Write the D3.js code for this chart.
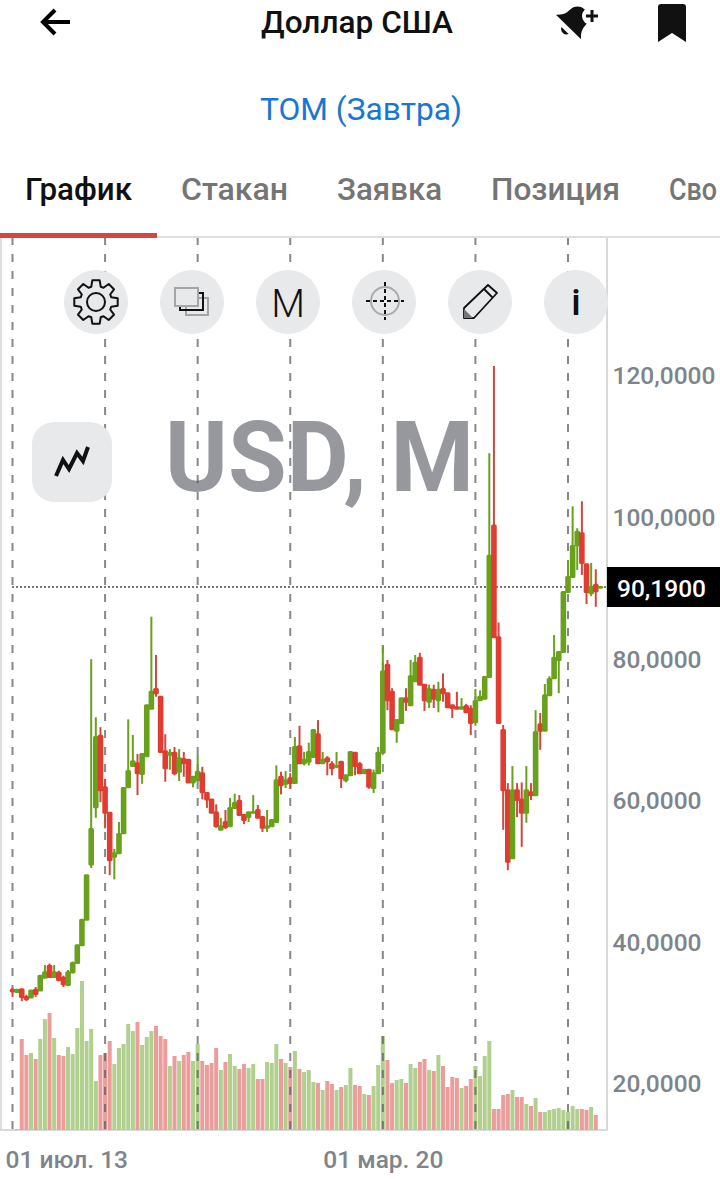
<!DOCTYPE html>
<html>
<head>
<meta charset="utf-8">
<script src="https://cdnjs.cloudflare.com/ajax/libs/d3/7.8.5/d3.min.js"></script>
<style>
    body { margin: 0; background: #fff; }
    svg { display: block; font-family: Roboto, sans-serif; }
</style>
</head>
<body>
<script>
let opens = [
    33.3,33.0,33.4,32.3,32.2,33.3,33.2,35.0,36.7,35.1,
    35.7,35.0,34.0,35.8,37.1,39.6,43.2,51.0,59.1,69.2,
    61.9,58.3,52.1,52.6,55.4,61.9,64.9,65.3,63.8,66.3,
    73.0,75.8,74.7,67.0,66.5,66.8,64.1,65.9,65.8,62.6,
    62.9,63.9,61.1,60.2,58.4,55.9,57.0,56.4,59.0,60.0,
    58.0,57.7,58.3,58.7,57.7,56.2,56.4,57.0,63.4,62.4,
    63.2,62.5,67.7,65.3,65.5,66.2,69.4,65.3,66.0,65.2,
    64.8,65.5,62.9,63.6,66.8,65.2,63.9,64.4,61.8,63.9,
    66.8,79.2,75.4,69.9,71.0,74.5,73.5,76.9,80.2,76.4,
    74.0,75.7,74.2,75.8,75.2,73.5,73.2,73.0,73.4,73.0,
    71.1,74.2,74.4,77.5,98.9,83.1,70.0,61.5,51.9,61.5,
    60.2,58.3,61.2,60.8,70.8,69.9,74.9,77.3,79.9,81.0,
    89.5,91.6,96.1,97.8,93.4,89.3,90.5,90.1
];
let closes = [
    33.1,33.3,32.3,32.0,33.2,32.7,35.3,35.8,35.1,35.8,
    34.7,34.1,35.8,37.1,39.6,43.2,49.5,56.0,69.0,61.5,
    58.3,51.6,52.6,55.3,61.8,64.2,65.6,63.9,66.6,73.5,
    75.4,75.2,66.9,64.6,66.8,63.9,66.0,65.3,62.6,63.4,
    64.1,61.2,60.2,58.3,56.4,56.4,56.3,59.0,59.7,58.0,
    57.3,58.4,58.4,57.6,56.2,56.4,57.3,62.9,62.2,62.9,
    62.5,67.6,65.3,65.8,66.9,70.0,65.3,65.8,65.6,64.6,
    64.9,63.2,63.6,66.9,64.9,63.9,64.4,62.0,63.9,66.8,
    78.3,74.2,70.1,71.4,74.5,74.0,77.6,79.5,76.4,74.2,
    75.8,74.4,75.7,75.2,73.2,73.1,73.0,73.2,72.5,71.0,
    74.1,74.7,77.5,94.6,83.1,71.0,61.5,51.4,61.5,60.1,
    58.3,61.5,60.8,69.7,69.9,74.9,77.2,80.2,81.0,89.5,
    91.6,96.0,98.0,93.6,89.5,90.2,89.6,90.2
];
let highs = [
    33.6,33.3,33.4,32.6,33.2,33.7,35.3,36.8,37.0,36.8,
    36.0,35.3,36.1,37.3,39.6,43.2,49.5,80.0,71.8,70.4,
    63.1,58.3,53.2,57.0,61.8,71.5,69.3,66.6,66.6,73.5,
    86.0,80.6,74.7,69.4,67.3,67.6,67.3,66.9,65.8,63.4,
    66.5,64.8,61.1,60.2,59.5,57.6,58.7,60.4,61.0,60.8,
    58.0,58.4,60.8,59.4,57.7,58.7,57.3,65.0,64.1,64.2,
    63.9,69.0,70.6,66.9,68.2,70.0,71.4,66.9,66.3,65.6,
    66.9,65.5,63.6,66.9,66.8,65.5,64.4,64.4,64.4,67.6,
    81.9,79.9,75.9,71.4,74.5,75.9,79.9,80.6,80.9,76.4,
    76.4,76.4,76.8,78.0,75.2,73.5,75.4,74.5,73.7,73.5,
    75.8,75.6,77.5,109.1,121.4,85.2,70.7,62.5,64.9,62.5,
    62.6,64.9,62.5,72.8,72.4,76.5,77.6,83.4,81.0,89.5,
    94.0,101.6,98.5,102.3,93.4,93.6,92.7,90.2
];
let lows = [
    32.3,33.0,31.7,31.7,32.2,32.3,33.2,35.0,35.0,35.1,
    34.5,33.7,33.8,35.6,37.1,39.6,43.2,50.5,57.6,59.8,
    56.1,49.5,48.9,52.6,55.4,61.9,64.9,60.8,62.4,66.3,
    73.0,74.7,66.9,62.7,64.4,63.6,62.8,63.4,62.6,61.9,
    62.9,60.2,59.0,58.3,56.2,55.9,56.0,56.4,59.0,58.0,
    56.7,57.0,58.3,57.6,55.6,55.6,56.4,57.0,60.9,61.8,
    61.7,62.5,65.3,65.0,65.0,66.2,65.3,65.3,63.6,63.6,
    64.6,61.8,62.6,63.6,63.6,63.8,63.9,61.7,61.1,63.9,
    66.8,72.8,70.1,68.2,71.0,72.7,73.5,76.9,76.4,72.7,
    73.1,73.1,72.5,74.0,73.1,71.7,73.0,73.0,72.5,69.3,
    70.6,74.2,74.4,77.5,83.1,71.0,55.9,50.2,51.9,57.7,
    53.5,56.9,60.1,60.8,67.2,69.9,74.9,77.3,75.2,81.0,
    89.5,91.6,92.6,91.9,87.8,88.9,87.4,90.1
];
let volumes = [
    0,1,91,75,77,71,91,111,117,92,
    75,74,83,76,102,149,89,101,49,75,
    77,89,66,82,86,106,99,108,85,93,
    99,104,94,91,64,74,69,75,78,69,
    86,69,65,67,82,60,68,76,64,61,
    66,62,66,51,51,68,67,86,71,67,
    63,79,61,58,60,48,47,40,49,46,
    40,43,45,62,45,44,36,35,44,65,
    94,70,47,50,51,47,66,62,68,71,
    60,59,75,64,43,53,52,42,44,51,
    64,54,74,89,21,21,35,36,40,33,
    33,26,24,32,18,18,20,21,22,20,
    18,24,21,21,20,23,15,0
];
let priceTicks = [20, 40, 60, 80, 100, 120];
let lastPrice = 90.19;
let gridIdx = [0, 20, 40, 60, 80, 100, 120];
let dateIdx = [0, 80];
let dateLabels = ["01 июл. 13", "01 мар. 20"];
let tabs = ["График", "Стакан", "Заявка", "Позиция", "Сво"];
let tabX = [25, 181, 337, 491, 669];
let tabW = [107, 107, 105, 129, 48];

let candles = d3.range(opens.length);

let width = 720;
let height = 1179;
let chartTop = 238;
let chartBottom = 1130;
let chartRight = 606;
let green = "#69a01c";
let red = "#e03c32";

let svg = d3.select("body")
    .append("svg")
    .attr("width", width)
    .attr("height", height);

let scaleX = d3.scaleLinear().domain([0, 120]).range([12.5, 568]);
let scaleY = d3.scaleLinear().domain([20, 120]).range([1084, 376]);
let scaleV = d3.scaleLinear().domain([0, 100]).range([chartBottom, chartBottom - 100]);

let ru = d3.formatLocale({ decimal: ",", thousands: " ", grouping: [3], currency: ["", ""] });
let fmt = ru.format(".4f");

// шапка
svg.append("path")
    .attr("d", "M70 22H43M55 10L43 22L55 34")
    .attr("fill", "none").attr("stroke", "#000").attr("stroke-width", 4);
svg.append("text").text("Доллар США")
    .attr("x", 261).attr("y", 33)
    .attr("font-size", 32).attr("font-weight", 500).attr("fill", "#111")
    .attr("textLength", 192).attr("lengthAdjust", "spacingAndGlyphs");
// колокольчик
let bell = svg.append("g").attr("transform", "translate(568.5,27) rotate(44)");
bell.append("path")
    .attr("d", "M-17.5 0C-13 -4 -11 -8 -11 -13C-11 -20 -6 -24 0 -24C6 -24 11 -20 11 -13C11 -8 13 -4 17.5 0Z")
    .attr("fill", "#111");
bell.append("path").attr("d", "M-5 5A5.5 5.5 0 0 0 5 5Z").attr("fill", "#111");
svg.append("circle").attr("cx", 591).attr("cy", 16).attr("r", 9).attr("fill", "#fff");
svg.append("path").attr("d", "M586 16H598M592 10V22")
    .attr("stroke", "#111").attr("stroke-width", 3);
svg.append("path")
    .attr("d", "M658 7Q658 4 661 4H683Q686 4 686 7V42L672 33L658 42Z")
    .attr("fill", "#111");

svg.append("text").text("ТОМ (Завтра)")
    .attr("x", 260).attr("y", 120)
    .attr("font-size", 32).attr("fill", "#1976d2")
    .attr("textLength", 202).attr("lengthAdjust", "spacingAndGlyphs");

// вкладки
svg.append("g").selectAll("text")
    .data(tabs)
    .join("text")
    .text(d => d)
    .attr("x", (d, i) => tabX[i])
    .attr("y", 200)
    .attr("font-size", 31)
    .attr("font-weight", 500)
    .attr("fill", (d, i) => i == 0 ? "#111" : "#757575")
    .attr("textLength", (d, i) => tabW[i])
    .attr("lengthAdjust", "spacingAndGlyphs");

// рамка
svg.append("rect").attr("x", 0).attr("y", 236).attr("width", width).attr("height", 2).attr("fill", "#dcdee0");
svg.append("rect").attr("x", 0).attr("y", 233).attr("width", 157).attr("height", 5).attr("fill", "#d5473c");
svg.append("rect").attr("x", 0).attr("y", chartTop).attr("width", 2).attr("height", chartBottom - chartTop).attr("fill", "#dcdee0");
svg.append("rect").attr("x", chartRight).attr("y", chartTop).attr("width", 2).attr("height", chartBottom - chartTop).attr("fill", "#d8d8d8");
svg.append("rect").attr("x", 0).attr("y", chartBottom - 1).attr("width", chartRight + 2).attr("height", 2).attr("fill", "#d8dadc");

// название инструмента
svg.append("text").text("USD, M")
    .attr("x", 165).attr("y", 491)
    .attr("font-size", 98).attr("font-weight", 700).attr("fill", "#97989e")
    .attr("textLength", 309).attr("lengthAdjust", "spacingAndGlyphs");

// объём
svg.append("g").selectAll("rect")
    .data(candles)
    .join("rect")
    .attr("x", i => scaleX(i) - 2)
    .attr("y", i => scaleV(volumes[i]))
    .attr("width", 4)
    .attr("height", i => chartBottom - scaleV(volumes[i]))
    .attr("fill", i => closes[i] >= opens[i] ? "#b1cf8e" : "#ea9d9b");

// вертикальная сетка
svg.append("g").selectAll("line")
    .data(gridIdx)
    .join("line")
    .attr("x1", d => scaleX(d)).attr("x2", d => scaleX(d))
    .attr("y1", chartTop).attr("y2", chartBottom)
    .attr("stroke", "#555").attr("stroke-opacity", 0.7)
    .attr("stroke-width", 2)
    .attr("stroke-dasharray", "8 9")
    .attr("stroke-dashoffset", 1);

// линия последней цены
svg.append("line")
    .attr("x1", 12).attr("x2", chartRight)
    .attr("y1", scaleY(lastPrice)).attr("y2", scaleY(lastPrice))
    .attr("stroke", "#777").attr("stroke-width", 2).attr("stroke-dasharray", "2 2");

// свечи
svg.append("g").selectAll("line")
    .data(candles)
    .join("line")
    .attr("x1", i => scaleX(i)).attr("x2", i => scaleX(i))
    .attr("y1", i => scaleY(highs[i])).attr("y2", i => scaleY(lows[i]))
    .attr("stroke", i => closes[i] >= opens[i] ? green : "#d2483c")
    .attr("stroke-width", 2);
svg.append("g").selectAll("rect")
    .data(candles)
    .join("rect")
    .attr("x", i => scaleX(i) - 2.8)
    .attr("width", 5.6)
    .attr("y", i => scaleY(Math.max(opens[i], closes[i])) - 1)
    .attr("height", i => Math.abs(scaleY(opens[i]) - scaleY(closes[i])) + 2)
    .attr("rx", 1.5)
    .attr("fill", i => closes[i] >= opens[i] ? green : red);

// оси
let axisY = d3.axisRight(scaleY)
    .tickValues(priceTicks)
    .tickFormat(fmt)
    .tickSize(0)
    .tickPadding(6.5);
let gY = svg.append("g")
    .attr("transform", `translate(${chartRight}, 0)`)
    .call(axisY);
gY.select(".domain").remove();
gY.selectAll("text")
    .attr("font-family", "Roboto").attr("font-size", 24.5).attr("font-weight", 500)
    .attr("fill", "#7d848b");

let axisX = d3.axisBottom(scaleX)
    .tickValues(dateIdx)
    .tickFormat((d, i) => dateLabels[i])
    .tickSize(0)
    .tickPadding(0);
let gX = svg.append("g")
    .attr("transform", "translate(0, 1151)")
    .call(axisX);
gX.select(".domain").remove();
gX.selectAll("text")
    .attr("font-family", "Roboto").attr("font-size", 24.5).attr("font-weight", 500)
    .attr("fill", "#7d848b");
gX.selectAll("text").filter((d, i) => i == 0)
    .attr("text-anchor", "start")
    .attr("x", 5 - scaleX(0));

// подпись цены
svg.append("rect").attr("x", 607).attr("y", 567).attr("width", 113).attr("height", 40).attr("fill", "#000");
svg.append("text").text(fmt(lastPrice))
    .attr("x", 617).attr("y", scaleY(lastPrice) + 10)
    .attr("font-size", 24.5).attr("font-weight", 500).attr("fill", "#fff");

// кнопки
let toolX = [96, 192, 288, 384, 480, 576];
svg.append("g").selectAll("circle")
    .data(toolX)
    .join("circle")
    .attr("cx", d => d).attr("cy", 302).attr("r", 32)
    .attr("fill", "#e8e9eb");

// шестерёнка
let gear = "";
for (let k = 0; k < 8; k++) {
    let a = k * Math.PI / 4;
    let pts = [[-0.3, 16], [-0.17, 22], [0.17, 22], [0.3, 16]];
    pts.forEach((p, j) => {
        let px = 96 + p[1] * Math.sin(a + p[0]);
        let py = 302 - p[1] * Math.cos(a + p[0]);
        gear += (k == 0 && j == 0 ? "M" : "L") + px.toFixed(1) + " " + py.toFixed(1);
    });
}
svg.append("path").attr("d", gear + "Z").attr("fill", "none").attr("stroke", "#111")
    .attr("stroke-width", 2).attr("stroke-linejoin", "round");
svg.append("circle").attr("cx", 96).attr("cy", 302).attr("r", 9)
    .attr("fill", "none").attr("stroke", "#111").attr("stroke-width", 2);

// слои
svg.append("rect").attr("x", 186).attr("y", 298).attr("width", 22).attr("height", 17)
    .attr("fill", "none").attr("stroke", "#a5a5a5").attr("stroke-width", 2);
svg.append("path").attr("d", "M198 293H203V310H180V305").attr("fill", "none").attr("stroke", "#111").attr("stroke-width", 2);
svg.append("rect").attr("x", 175).attr("y", 288).attr("width", 23).attr("height", 18)
    .attr("fill", "#e8e9eb").attr("stroke", "#a5a5a5").attr("stroke-width", 2);

svg.append("text").text("M")
    .attr("x", 288).attr("y", 317).attr("text-anchor", "middle")
    .attr("font-size", 39).attr("font-weight", 300).attr("fill", "#111");

// прицел
svg.append("circle").attr("cx", 385).attr("cy", 301).attr("r", 14)
    .attr("fill", "none").attr("stroke", "#aaa").attr("stroke-width", 2);
svg.append("path").attr("d", "M366 301H404M385 282V320")
    .attr("fill", "none").attr("stroke", "#111").attr("stroke-width", 2).attr("stroke-dasharray", "4 3");

// карандаш
svg.append("path").attr("d", "M464 318V308L488 285L497 293L474 318Z M484 289L493 298")
    .attr("fill", "none").attr("stroke", "#111").attr("stroke-width", 1.8).attr("stroke-linejoin", "round");
svg.append("path").attr("d", "M464 318V309L473 318Z").attr("fill", "#777");

svg.append("text").text("i")
    .attr("x", 576).attr("y", 315).attr("text-anchor", "middle")
    .attr("font-size", 37).attr("font-weight", 500).attr("fill", "#111");

// кнопка типа графика
svg.append("rect").attr("x", 32).attr("y", 422).attr("width", 80).attr("height", 80).attr("rx", 22)
    .attr("fill", "#e8e9eb");
svg.append("path").attr("d", "M56 476L63 460L69 469L77 453L83 461L88 447")
    .attr("fill", "none").attr("stroke", "#111").attr("stroke-width", 4);
</script>
</body>
</html>
